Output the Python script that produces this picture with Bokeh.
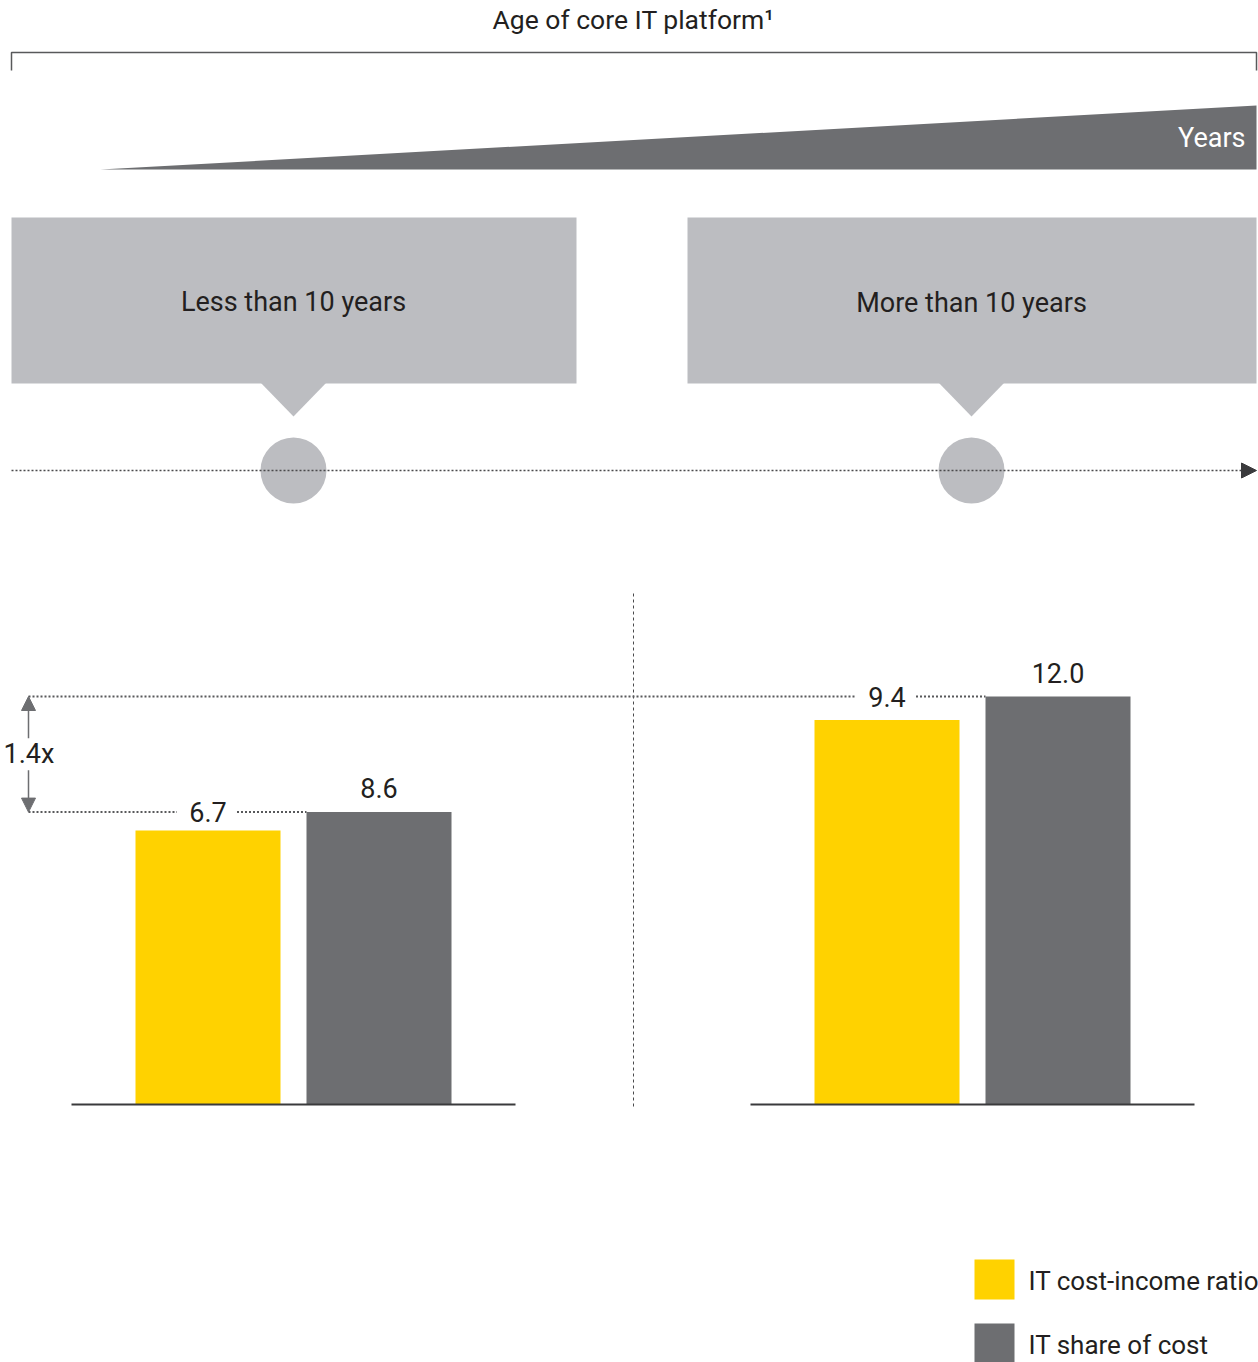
from bokeh.plotting import figure
from bokeh.models import Range1d, Arrow, NormalHead
from bokeh.core.properties import value
from bokeh.embed import file_html
from bokeh.resources import INLINE

# ---- data ----
title = "Age of core IT platform\u00b9"
axis_word = "Years"
categories = ["Less than 10 years", "More than 10 years"]
cost_income = [6.7, 9.4]          # IT cost-income ratio (yellow)
share_of_cost = [8.6, 12.0]       # IT share of cost (grey)
multiplier_label = "1.4x"
legend_labels = ["IT cost-income ratio", "IT share of cost"]

# ---- style ----
YELLOW = "#FFD200"
GREY = "#6D6E71"
LIGHT = "#BCBDC1"
TXT = "#231F20"
FONT = value("Roboto")
FS = "27px"

W, H = 1258, 1362
BASE = 1104          # baseline pixel
GREY_PX = 34.0       # px per unit, grey series
YEL_PX = 40.9        # px per unit, yellow series

p = figure(width=W, height=H, x_range=Range1d(0, W), y_range=Range1d(H, 0),
           output_backend="svg", toolbar_location=None, min_border=0)
p.axis.visible = False
p.grid.visible = False
p.outline_line_color = None
p.background_fill_color = "white"
p.border_fill_color = "white"
p.extra_y_ranges = {
    "grey": Range1d(start=(BASE - H) / GREY_PX, end=BASE / GREY_PX),
    "yel": Range1d(start=(BASE - H) / YEL_PX, end=BASE / YEL_PX),
}

# ---- header ----
p.text(x=[633], y=[19], text=[title], text_font=FONT, text_font_size="26.5px",
       text_align="center", text_baseline="middle", text_color=TXT)
p.line(x=[11, 11, 1256, 1256], y=[70, 52, 52, 70], line_color="#58595B", line_width=1.5)
p.patch(x=[100, 1256, 1256], y=[169, 105, 169], fill_color=GREY, line_color=None)
p.text(x=[1245], y=[137], text=[axis_word], text_font=FONT, text_font_size=FS,
       text_align="right", text_baseline="middle", text_color="white")

# ---- category boxes ----
centers = [293, 971]
box_l = [11, 687]
box_r = [576, 1256]
for i, c in enumerate(centers):
    p.quad(left=box_l[i], right=box_r[i], top=217, bottom=383, fill_color=LIGHT, line_color=None)
    p.patch(x=[c - 33, c + 33, c], y=[382, 382, 416], fill_color=LIGHT, line_color=None)
p.text(x=centers, y=[301, 302], text=categories, text_font=FONT, text_font_size=FS,
       text_align="center", text_baseline="middle", text_color=TXT)

# timeline
p.add_layout(Arrow(end=NormalHead(size=15, fill_color="#3A3A3C", line_color="#3A3A3C"),
                   x_start=11, y_start=470, x_end=1256, y_end=470,
                   line_color="#4A4A4C", line_width=1.3, line_dash="2 2"))
p.circle(x=centers, y=[470, 470], radius=33, fill_color=LIGHT, line_color=None)

# ---- bars ----
gc = [293, 972]
yel_x = [c - 85.5 for c in gc]
grey_x = [c + 85.5 for c in gc]
BW = 145
p.vbar(x=yel_x, top=cost_income, bottom=0, width=BW, fill_color=YELLOW, line_color=None, y_range_name="yel")
p.vbar(x=grey_x, top=share_of_cost, bottom=0, width=BW, fill_color=GREY, line_color=None, y_range_name="grey")

# baselines
for c in gc:
    p.segment(x0=[c - 222], x1=[c + 222], y0=[0], y1=[0], line_color="#3A3A3C",
              line_width=2, y_range_name="grey")

# divider
p.segment(x0=[633], x1=[633], y0=[593], y1=[1108], line_color="#4A4A4C",
          line_width=1, line_dash="3 3")

# dotted reference lines at grey tops, broken around yellow labels
for i in range(2):
    gl = grey_x[i] - BW / 2
    p.segment(x0=[28, yel_x[i] + 29], x1=[yel_x[i] - 31, gl],
              y0=[share_of_cost[i]] * 2, y1=[share_of_cost[i]] * 2,
              line_color="#58595B", line_width=2, line_dash="2 2", y_range_name="grey")

# value labels
p.text(x=yel_x, y=share_of_cost, text=[f"{v:.1f}" for v in cost_income], text_font=FONT,
       text_font_size=FS, text_align="center", text_baseline="middle", text_color=TXT,
       y_range_name="grey")
p.text(x=grey_x, y=share_of_cost, text=[f"{v:.1f}" for v in share_of_cost], text_font=FONT,
       text_font_size=FS, text_align="center", text_baseline="middle", text_color=TXT,
       y_offset=-24, y_range_name="grey")

# multiplier arrow
mid = (share_of_cost[0] + share_of_cost[1]) / 2
gap = 16 / GREY_PX
for end_v, sign in ((share_of_cost[1], 1), (share_of_cost[0], -1)):
    p.add_layout(Arrow(end=NormalHead(size=14, fill_color=GREY, line_color=GREY),
                       x_start=28, y_start=mid + sign * gap, x_end=28, y_end=end_v,
                       line_color=GREY, line_width=1.5, y_range_name="grey"))
p.text(x=[3], y=[mid], text=[multiplier_label], text_font=FONT, text_font_size=FS,
       text_align="left", text_baseline="middle", text_color=TXT, y_range_name="grey")

# ---- legend ----
p.quad(left=[974, 974], right=[1014, 1014], top=[1259, 1323], bottom=[1299, 1362],
       fill_color=[YELLOW, GREY], line_color=None)
p.text(x=[1028, 1028], y=[1280, 1344], text=legend_labels, text_font=FONT,
       text_font_size="26px", text_align="left", text_baseline="middle", text_color=TXT)

open("out.html", "w").write(file_html(p, INLINE))
